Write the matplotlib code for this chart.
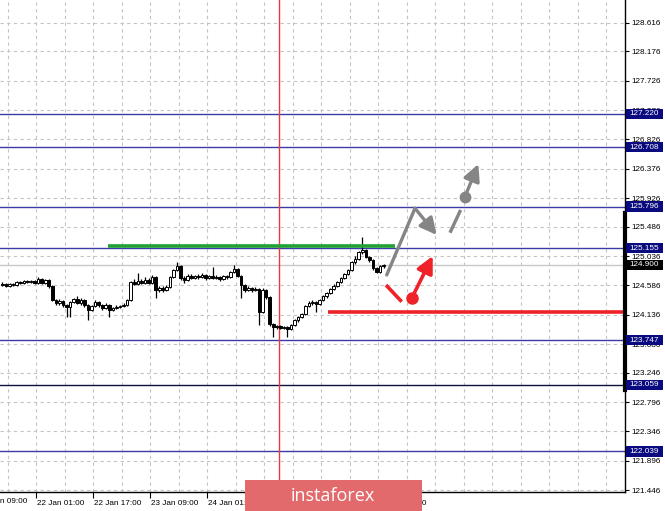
import matplotlib
matplotlib.use("Agg")
import matplotlib.pyplot as plt
import matplotlib.transforms as mtransforms
from matplotlib.patches import Rectangle
import numpy as np

plt.rcParams['font.family'] = ['Liberation Sans', 'DejaVu Sans']

# ---------------- data ----------------
opens = [124.592, 124.608, 124.577, 124.608, 124.592, 124.638, 124.623, 124.654, 124.638, 124.654,
         124.623, 124.684, 124.623, 124.669, 124.577, 124.362, 124.316, 124.347, 124.286, 124.255,
         124.332, 124.378, 124.316, 124.362, 124.286, 124.209, 124.270, 124.332, 124.286, 124.239,
         124.286, 124.209, 124.239, 124.255, 124.270, 124.286, 124.362, 124.638, 124.608, 124.654,
         124.623, 124.669, 124.623, 124.715, 124.516, 124.546, 124.516, 124.562, 124.715, 124.822,
         124.884, 124.700, 124.669, 124.730, 124.700, 124.730, 124.715, 124.746, 124.700, 124.730,
         124.700, 124.715, 124.684, 124.730, 124.715, 124.792, 124.838, 124.730, 124.592, 124.516,
         124.546, 124.516, 124.531, 124.178, 124.516, 124.408, 123.994, 123.948, 123.963, 123.933,
         123.948, 123.918, 123.979, 124.056, 124.102, 124.148, 124.270, 124.316, 124.332, 124.301,
         124.362, 124.424, 124.470, 124.531, 124.577, 124.638, 124.700, 124.761, 124.822, 124.945,
         124.991, 125.098, 125.129, 125.022, 124.976, 124.853, 124.792, 124.884]
closes = [124.608, 124.577, 124.608, 124.592, 124.638, 124.623, 124.654, 124.638, 124.654, 124.623,
          124.684, 124.623, 124.669, 124.577, 124.362, 124.316, 124.347, 124.286, 124.255, 124.332,
          124.378, 124.316, 124.362, 124.286, 124.209, 124.270, 124.332, 124.286, 124.239, 124.286,
          124.209, 124.239, 124.255, 124.270, 124.286, 124.362, 124.638, 124.608, 124.654, 124.623,
          124.669, 124.623, 124.715, 124.516, 124.546, 124.516, 124.562, 124.715, 124.822, 124.884,
          124.700, 124.669, 124.730, 124.700, 124.730, 124.715, 124.746, 124.700, 124.730, 124.700,
          124.715, 124.684, 124.730, 124.715, 124.792, 124.838, 124.730, 124.592, 124.516, 124.546,
          124.516, 124.531, 124.178, 124.516, 124.408, 123.994, 123.948, 123.963, 123.933, 123.948,
          123.918, 123.979, 124.056, 124.102, 124.148, 124.270, 124.316, 124.332, 124.301, 124.362,
          124.424, 124.470, 124.531, 124.577, 124.638, 124.700, 124.761, 124.822, 124.945, 124.991,
          125.098, 125.129, 125.022, 124.976, 124.853, 124.792, 124.884, 124.900]
highs = [124.64, 124.63, 124.63, 124.63, 124.66, 124.66, 124.67, 124.67, 124.67, 124.67,
         124.71, 124.70, 124.69, 124.68, 124.59, 124.38, 124.37, 124.36, 124.30, 124.35,
         124.40, 124.42, 124.39, 124.38, 124.30, 124.29, 124.36, 124.35, 124.30, 124.31,
         124.30, 124.26, 124.28, 124.29, 124.31, 124.38, 124.66, 124.68, 124.77, 124.69,
         124.72, 124.70, 124.75, 124.73, 124.58, 124.57, 124.59, 124.73, 124.84, 124.945,
         124.90, 124.73, 124.76, 124.76, 124.75, 124.76, 124.77, 124.76, 124.75, 124.868,
         124.74, 124.73, 124.75, 124.75, 124.81, 124.90, 124.85, 124.74, 124.60, 124.57,
         124.56, 124.56, 124.55, 124.55, 124.53, 124.42, 124.01, 123.98, 123.98, 123.97,
         123.96, 123.99, 124.07, 124.12, 124.17, 124.29, 124.34, 124.36, 124.35, 124.38,
         124.44, 124.49, 124.55, 124.60, 124.66, 124.72, 124.78, 124.84, 124.96, 125.03,
         125.12, 125.329, 125.15, 125.04, 124.99, 124.87, 124.90, 124.92]
lows = [124.57, 124.56, 124.56, 124.57, 124.58, 124.61, 124.61, 124.62, 124.62, 124.60,
        124.61, 124.60, 124.60, 124.55, 124.34, 124.28, 124.29, 124.26, 124.10, 124.10,
        124.31, 124.30, 124.29, 124.26, 124.06, 124.19, 124.25, 124.26, 124.21, 124.22,
        124.10, 124.19, 124.22, 124.24, 124.25, 124.27, 124.35, 124.59, 124.59, 124.60,
        124.61, 124.60, 124.60, 124.39, 124.49, 124.49, 124.50, 124.55, 124.70, 124.80,
        124.67, 124.62, 124.65, 124.68, 124.68, 124.69, 124.70, 124.67, 124.68, 124.68,
        124.68, 124.66, 124.67, 124.69, 124.70, 124.78, 124.71, 124.39, 124.49, 124.50,
        124.49, 124.50, 123.979, 124.16, 124.38, 123.96, 123.795, 123.92, 123.91, 123.91,
        123.795, 123.90, 123.96, 124.03, 124.08, 124.13, 124.25, 124.29, 124.178, 124.28,
        124.34, 124.40, 124.45, 124.51, 124.56, 124.62, 124.68, 124.74, 124.80, 124.92,
        124.97, 125.07, 125.00, 124.95, 124.83, 124.77, 124.77, 124.86]

blue_levels = [127.220, 126.708, 125.796, 125.155, 123.747, 122.039]
black_level = 123.059
bid_price = 124.900
green_level = 125.195
red_level = 124.178

ytick_vals = [128.616, 128.176, 127.726, 127.276, 126.826, 126.376, 125.926, 125.486,
              125.036, 124.586, 124.136, 123.686, 123.246, 122.796, 122.346, 121.896, 121.446]

xtick_pos = [9.5, 25.5, 41.5, 57.5, 73.5, 89.5, 105.5]
xtick_lab = ["22 Jan 01:00", "22 Jan 17:00", "23 Jan 09:00", "24 Jan 01:00",
             "24 Jan 17:00", "25 Jan 09:00", "28 Jan 01:00"]
first_label = (-6.5, "21 Jan 09:00")

vline_x = 77.6
green_span = (29.6, 110.2)
red_span = (91.4, 174.74)

# forecast paths (bar index, price)
gray_path_x = [107.85, 115.79, 121.88]
gray_path_y = [124.746, 125.769, 125.359]
gray_dash_x = [125.61, 128.6]
gray_dash_y = [125.394, 125.743]
gray_dot = (129.82, 125.947)
gray_tip = (133.56, 126.448)
red_seg_x = [107.65, 112.06]
red_seg_y = [124.592, 124.336]
red_dot = (114.86, 124.388)
red_tip = (120.76, 125.037)

# ---------------- figure ----------------
W, H = 665, 511
fig = plt.figure(figsize=(W / 100, H / 100), dpi=100)
ax = fig.add_axes([0, 19 / H, 625 / W, 492 / H])
ax.set_xlim(-0.70, 174.74)
ax.set_ylim(121.417, 128.964)

for s in ['top', 'left']:
    ax.spines[s].set_visible(False)
ax.spines['right'].set_linewidth(1.0)
ax.spines['bottom'].set_linewidth(1.0)

# grid
grid_kw = dict(color='#c4c4c4', lw=0.8, ls=(0, (3, 3)), zorder=0)
for gx in np.arange(1.5, 175, 8):
    ax.axvline(gx, **grid_kw)
for gy in ytick_vals:
    ax.axhline(gy, **grid_kw)

# level lines
for lv in blue_levels:
    ax.axhline(lv, color='#3a3aa8', lw=1.0, zorder=1)
ax.axhline(black_level, color='#101040', lw=1.0, zorder=1)
ax.axhline(bid_price, color='#c8c8c8', lw=1.0, zorder=1)
ax.axvline(vline_x, color='#e8383d', lw=1.0, zorder=1)

# candles
xs = np.arange(len(closes))
o = np.array(opens); c = np.array(closes)
ax.vlines(xs, lows, highs, color='black', lw=0.9, zorder=3)
bull = c >= o
ax.bar(xs[bull], np.maximum(c[bull] - o[bull], 0.004), bottom=o[bull], width=0.74,
       color='white', edgecolor='black', lw=0.7, zorder=4)
ax.bar(xs[~bull], o[~bull] - c[~bull], bottom=c[~bull], width=0.74,
       color='black', edgecolor='black', lw=0.7, zorder=4)

# green and red horizontal levels
ax.plot(green_span, [green_level, green_level], color='#21a033', lw=2.6, zorder=5,
        solid_capstyle='butt')
ax.plot(red_span, [red_level, red_level], color='#ee2228', lw=2.6, zorder=5,
        solid_capstyle='butt')

# gray forecast
gcol = '#858585'
ax.plot(gray_path_x[:2], gray_path_y[:2], color=gcol, lw=2.4, zorder=6, solid_capstyle='round')
ax.annotate('', xy=(gray_path_x[2], gray_path_y[2]), xytext=(gray_path_x[1], gray_path_y[1]),
            arrowprops=dict(arrowstyle='-|>,head_length=1.0,head_width=0.5', color=gcol,
                            lw=2.4, shrinkA=0, shrinkB=0), zorder=6)
ax.plot(gray_dash_x, gray_dash_y, color=gcol, lw=2.4, zorder=6, solid_capstyle='butt')
ax.plot(*gray_dot, 'o', color=gcol, ms=7.5, zorder=6)
ax.annotate('', xy=gray_tip, xytext=gray_dot,
            arrowprops=dict(arrowstyle='-|>,head_length=1.0,head_width=0.5', color=gcol,
                            lw=2.4, shrinkA=0, shrinkB=0), zorder=6)

# red forecast
rcol = '#ee2228'
ax.plot(red_seg_x, red_seg_y, color=rcol, lw=2.6, zorder=6, solid_capstyle='butt')
ax.plot(*red_dot, 'o', color=rcol, ms=8, zorder=6)
ax.annotate('', xy=red_tip, xytext=red_dot,
            arrowprops=dict(arrowstyle='-|>,head_length=1.0,head_width=0.5', color=rcol,
                            lw=2.6, shrinkA=0, shrinkB=0), zorder=6)

# axes ticks
fs = 5.9
ax.yaxis.tick_right()
ax.set_yticks(ytick_vals)
ax.set_yticklabels([f"{v:.3f}" for v in ytick_vals])
ax.tick_params(axis='y', length=3, width=0.8, pad=1.5, labelsize=fs, colors='black')
ax.set_xticks(xtick_pos)
ax.set_xticklabels(xtick_lab)
ax.tick_params(axis='x', length=4, width=0.8, pad=2, labelsize=fs)
for lbl in ax.get_xticklabels():
    lbl.set_ha('left')
ax.text(first_label[0] + 0.3, 121.417, first_label[1], fontsize=fs, ha='left', va='top',
        transform=mtransforms.offset_copy(ax.transData, fig=fig, y=-6, units='dots'),
        clip_on=False)
off = mtransforms.ScaledTranslation(1 / 100, 0, fig.dpi_scale_trans)
for lbl in ax.get_xticklabels():
    lbl.set_transform(lbl.get_transform() + off)

# thick segment on right spine
ax.plot([1, 1], [122.982, 125.697], color='black', lw=3,
        transform=mtransforms.blended_transform_factory(ax.transAxes, ax.transData),
        clip_on=False, zorder=7)

# price boxes on the right
bt = mtransforms.blended_transform_factory(fig.transFigure, ax.transData)
box_h = 0.155
def price_box(val, face):
    ax.add_patch(Rectangle((626 / W, val - box_h / 2), 37 / W, box_h, transform=bt,
                           facecolor=face, edgecolor='none', clip_on=False, zorder=8))
    ax.text(629.5 / W, val, f"{val:.3f}", transform=bt, color='white', fontsize=fs,
            ha='left', va='center', clip_on=False, zorder=9)

for lv in blue_levels + [black_level]:
    price_box(lv, '#0a0a80')
price_box(bid_price, '#000000')

# logo
fig.patches.append(Rectangle((245 / W, 0), 177 / W, 31 / H, transform=fig.transFigure,
                             facecolor='#e36a6c', edgecolor='none', zorder=10))
fig.text(333 / W, 15.5 / H, "instaforex", color='white', fontsize=13, family='Open Sans',
         ha='center', va='center', zorder=11)

fig.savefig("out.png", dpi=100)
